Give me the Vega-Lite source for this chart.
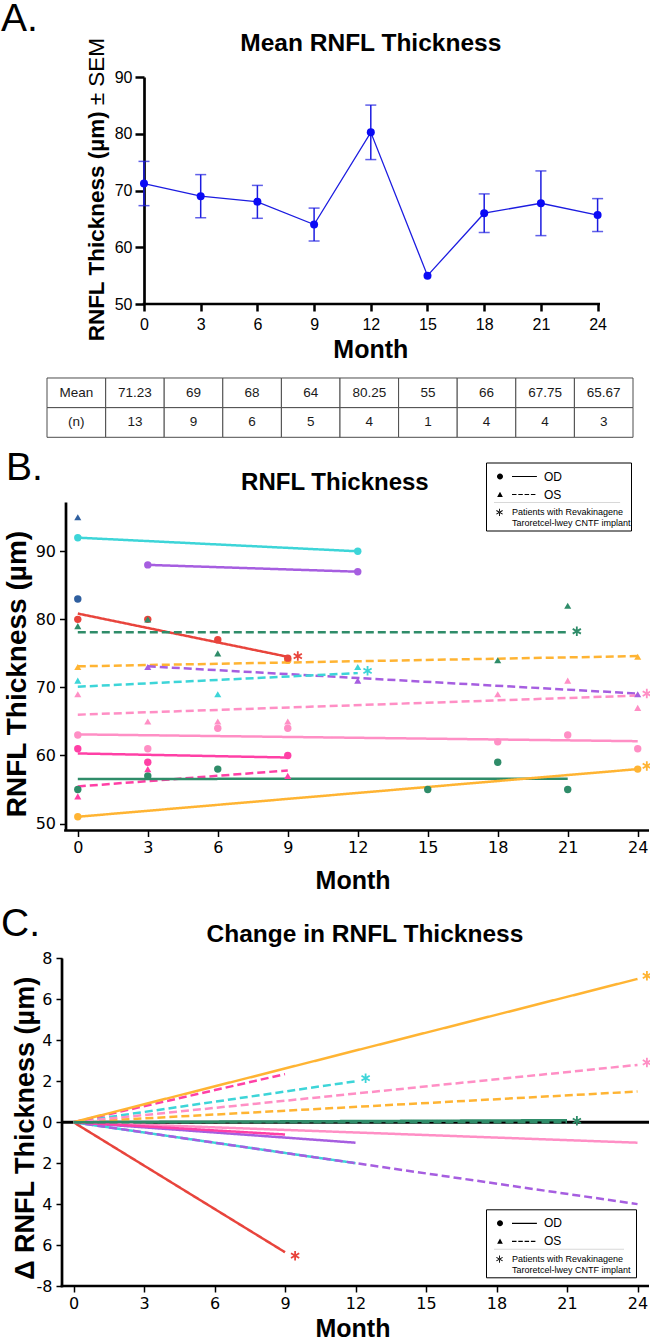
{
  "$schema": "https://vega.github.io/schema/vega-lite/v6.json",
  "background": "white",
  "padding": 0,
  "bounds": "flush",
  "spacing": 64,
  "resolve": {
    "scale": {"color": "independent", "shape": "independent", "strokeDash": "independent"},
    "legend": {"color": "independent", "shape": "independent", "strokeDash": "independent"}
  },
  "config": {
    "view": {"stroke": null},
    "axis": {"grid": false, "labelColor": "black", "tickColor": "black", "domainColor": "black", "labelFlush": false, "labelOverlap": false},
    "legend": {"title": null, "orient": "none", "direction": "vertical", "columns": 1, "symbolSize": 36, "symbolOpacity": 1, "symbolStrokeWidth": 0, "labelFont": "Liberation Sans", "labelColor": "black", "labelLimit": 300}
  },
  "datasets": {
    "meanA": [
      {"month": 0, "mean": 71.23, "sem": 3.9, "n": 13},
      {"month": 3, "mean": 69, "sem": 3.8, "n": 9},
      {"month": 6, "mean": 68, "sem": 2.9, "n": 6},
      {"month": 9, "mean": 64, "sem": 2.9, "n": 5},
      {"month": 12, "mean": 80.25, "sem": 4.8, "n": 4},
      {"month": 15, "mean": 55, "sem": 0, "n": 1},
      {"month": 18, "mean": 66, "sem": 3.4, "n": 4},
      {"month": 21, "mean": 67.75, "sem": 5.7, "n": 4},
      {"month": 24, "mean": 65.67, "sem": 2.9, "n": 3}
    ],
    "tableHeader": [
      {"month": "hdr", "key": "mean", "label": "Mean"},
      {"month": "hdr", "key": "n", "label": "(n)"}
    ],
    "pointsB": [
      {"pid": "P5", "eye": "OS", "month": 0, "rnfl": 95},
      {"pid": "P5", "eye": "OD", "month": 0, "rnfl": 83},
      {"pid": "P1", "eye": "OD", "month": 0, "rnfl": 92},
      {"pid": "P1", "eye": "OD", "month": 12, "rnfl": 90},
      {"pid": "P1", "eye": "OS", "month": 0, "rnfl": 71},
      {"pid": "P1", "eye": "OS", "month": 6, "rnfl": 69},
      {"pid": "P1", "eye": "OS", "month": 12, "rnfl": 73},
      {"pid": "P2", "eye": "OD", "month": 3, "rnfl": 88},
      {"pid": "P2", "eye": "OD", "month": 12, "rnfl": 87},
      {"pid": "P2", "eye": "OS", "month": 3, "rnfl": 73},
      {"pid": "P2", "eye": "OS", "month": 12, "rnfl": 71},
      {"pid": "P2", "eye": "OS", "month": 24, "rnfl": 69},
      {"pid": "P6", "eye": "OD", "month": 9, "rnfl": 74},
      {"pid": "P6", "eye": "OD", "month": 0, "rnfl": 51},
      {"pid": "P6", "eye": "OD", "month": 24, "rnfl": 58},
      {"pid": "P6", "eye": "OS", "month": 0, "rnfl": 73},
      {"pid": "P6", "eye": "OS", "month": 24, "rnfl": 74.5},
      {"pid": "P3", "eye": "OD", "month": 0, "rnfl": 80},
      {"pid": "P3", "eye": "OD", "month": 3, "rnfl": 80},
      {"pid": "P3", "eye": "OD", "month": 6, "rnfl": 77},
      {"pid": "P3", "eye": "OD", "month": 9, "rnfl": 74.3},
      {"pid": "P4", "eye": "OS", "month": 0, "rnfl": 79},
      {"pid": "P4", "eye": "OS", "month": 3, "rnfl": 80},
      {"pid": "P4", "eye": "OS", "month": 6, "rnfl": 75},
      {"pid": "P4", "eye": "OS", "month": 18, "rnfl": 74},
      {"pid": "P4", "eye": "OS", "month": 21, "rnfl": 82},
      {"pid": "P4", "eye": "OD", "month": 0, "rnfl": 55},
      {"pid": "P4", "eye": "OD", "month": 3, "rnfl": 57},
      {"pid": "P4", "eye": "OD", "month": 6, "rnfl": 58},
      {"pid": "P4", "eye": "OD", "month": 15, "rnfl": 55},
      {"pid": "P4", "eye": "OD", "month": 18, "rnfl": 59},
      {"pid": "P4", "eye": "OD", "month": 21, "rnfl": 55},
      {"pid": "P7", "eye": "OS", "month": 0, "rnfl": 69},
      {"pid": "P7", "eye": "OS", "month": 3, "rnfl": 65},
      {"pid": "P7", "eye": "OS", "month": 6, "rnfl": 65},
      {"pid": "P7", "eye": "OS", "month": 9, "rnfl": 65},
      {"pid": "P7", "eye": "OS", "month": 18, "rnfl": 69},
      {"pid": "P7", "eye": "OS", "month": 21, "rnfl": 71},
      {"pid": "P7", "eye": "OS", "month": 24, "rnfl": 67},
      {"pid": "P7", "eye": "OD", "month": 0, "rnfl": 63},
      {"pid": "P7", "eye": "OD", "month": 3, "rnfl": 61},
      {"pid": "P7", "eye": "OD", "month": 6, "rnfl": 64},
      {"pid": "P7", "eye": "OD", "month": 9, "rnfl": 64},
      {"pid": "P7", "eye": "OD", "month": 18, "rnfl": 62},
      {"pid": "P7", "eye": "OD", "month": 21, "rnfl": 63},
      {"pid": "P7", "eye": "OD", "month": 24, "rnfl": 61},
      {"pid": "P8", "eye": "OD", "month": 0, "rnfl": 61},
      {"pid": "P8", "eye": "OD", "month": 3, "rnfl": 59},
      {"pid": "P8", "eye": "OD", "month": 9, "rnfl": 60},
      {"pid": "P8", "eye": "OS", "month": 0, "rnfl": 54},
      {"pid": "P8", "eye": "OS", "month": 3, "rnfl": 58},
      {"pid": "P8", "eye": "OS", "month": 9, "rnfl": 57}
    ],
    "trendB": [
      {"line": "L1", "pid": "P1", "eye": "OD", "month": 0, "rnfl": 92},
      {"line": "L1", "pid": "P1", "eye": "OD", "month": 12, "rnfl": 90},
      {"line": "L2", "pid": "P2", "eye": "OD", "month": 3, "rnfl": 88},
      {"line": "L2", "pid": "P2", "eye": "OD", "month": 12, "rnfl": 87},
      {"line": "L3", "pid": "P3", "eye": "OD", "month": 0, "rnfl": 80.85},
      {"line": "L3", "pid": "P3", "eye": "OD", "month": 9, "rnfl": 74.5},
      {"line": "L4", "pid": "P4", "eye": "OS", "month": 0, "rnfl": 78.1},
      {"line": "L4", "pid": "P4", "eye": "OS", "month": 21, "rnfl": 78.1},
      {"line": "L5", "pid": "P6", "eye": "OS", "month": 0, "rnfl": 73.1},
      {"line": "L5", "pid": "P6", "eye": "OS", "month": 24, "rnfl": 74.6},
      {"line": "L6", "pid": "P2", "eye": "OS", "month": 3, "rnfl": 73.1},
      {"line": "L6", "pid": "P2", "eye": "OS", "month": 24, "rnfl": 69.1},
      {"line": "L7", "pid": "P1", "eye": "OS", "month": 0, "rnfl": 70.1},
      {"line": "L7", "pid": "P1", "eye": "OS", "month": 12, "rnfl": 72.1},
      {"line": "L8", "pid": "P7", "eye": "OS", "month": 0, "rnfl": 66.0},
      {"line": "L8", "pid": "P7", "eye": "OS", "month": 24, "rnfl": 68.8},
      {"line": "L9", "pid": "P7", "eye": "OD", "month": 0, "rnfl": 63.1},
      {"line": "L9", "pid": "P7", "eye": "OD", "month": 24, "rnfl": 62.1},
      {"line": "L10", "pid": "P8", "eye": "OD", "month": 0, "rnfl": 60.3},
      {"line": "L10", "pid": "P8", "eye": "OD", "month": 9, "rnfl": 59.7},
      {"line": "L11", "pid": "P8", "eye": "OS", "month": 0, "rnfl": 55.45},
      {"line": "L11", "pid": "P8", "eye": "OS", "month": 9, "rnfl": 57.8},
      {"line": "L12", "pid": "P4", "eye": "OD", "month": 0, "rnfl": 56.55},
      {"line": "L12", "pid": "P4", "eye": "OD", "month": 21, "rnfl": 56.6},
      {"line": "L13", "pid": "P6", "eye": "OD", "month": 0, "rnfl": 51.0},
      {"line": "L13", "pid": "P6", "eye": "OD", "month": 24, "rnfl": 58.0}
    ],
    "starsB": [
      {"pid": "P3", "month": 9.43, "rnfl": 74.6},
      {"pid": "P4", "month": 21.39, "rnfl": 78.25},
      {"pid": "P1", "month": 12.42, "rnfl": 72.44},
      {"pid": "P7", "month": 24.39, "rnfl": 69.1},
      {"pid": "P6", "month": 24.39, "rnfl": 58.47}
    ],
    "trendC": [
      {"line": "L1", "pid": "P1", "eye": "OD", "month": 0, "delta": 0},
      {"line": "L1", "pid": "P1", "eye": "OD", "month": 12, "delta": -2.0},
      {"line": "L2", "pid": "P2", "eye": "OD", "month": 0, "delta": 0},
      {"line": "L2", "pid": "P2", "eye": "OD", "month": 12, "delta": -1.0},
      {"line": "L3", "pid": "P3", "eye": "OD", "month": 0, "delta": 0},
      {"line": "L3", "pid": "P3", "eye": "OD", "month": 9, "delta": -6.35},
      {"line": "L5", "pid": "P6", "eye": "OS", "month": 0, "delta": 0},
      {"line": "L5", "pid": "P6", "eye": "OS", "month": 24, "delta": 1.5},
      {"line": "L6", "pid": "P2", "eye": "OS", "month": 0, "delta": 0},
      {"line": "L6", "pid": "P2", "eye": "OS", "month": 24, "delta": -4.0},
      {"line": "L7", "pid": "P1", "eye": "OS", "month": 0, "delta": 0},
      {"line": "L7", "pid": "P1", "eye": "OS", "month": 12, "delta": 2.0},
      {"line": "L8", "pid": "P7", "eye": "OS", "month": 0, "delta": 0},
      {"line": "L8", "pid": "P7", "eye": "OS", "month": 24, "delta": 2.8},
      {"line": "L9", "pid": "P7", "eye": "OD", "month": 0, "delta": 0},
      {"line": "L9", "pid": "P7", "eye": "OD", "month": 24, "delta": -1.0},
      {"line": "L10", "pid": "P8", "eye": "OD", "month": 0, "delta": 0},
      {"line": "L10", "pid": "P8", "eye": "OD", "month": 9, "delta": -0.6},
      {"line": "L11", "pid": "P8", "eye": "OS", "month": 0, "delta": 0},
      {"line": "L11", "pid": "P8", "eye": "OS", "month": 9, "delta": 2.35},
      {"line": "L13", "pid": "P6", "eye": "OD", "month": 0, "delta": 0},
      {"line": "L13", "pid": "P6", "eye": "OD", "month": 24, "delta": 7.0},
      {"line": "L12", "pid": "P4", "eye": "OD", "month": 0, "delta": 0},
      {"line": "L12", "pid": "P4", "eye": "OD", "month": 21, "delta": 0.1},
      {"line": "L4", "pid": "P4", "eye": "OS", "month": 0, "delta": 0},
      {"line": "L4", "pid": "P4", "eye": "OS", "month": 21, "delta": 0.0}
    ],
    "starsC": [
      {"pid": "P6", "month": 24.4, "delta": 7.15},
      {"pid": "P7", "month": 24.4, "delta": 2.92},
      {"pid": "P1", "month": 12.43, "delta": 2.15},
      {"pid": "P4", "month": 21.42, "delta": 0.07},
      {"pid": "P3", "month": 9.43, "delta": -6.52}
    ],
    "legendEye": [{"key": "OD"}, {"key": "OS"}, {"key": "gap"}],
    "legendSep": [{"key": "sep"}],
    "legendCNTF": [{"key": "CNTF"}]
  },
  "vconcat": [
    {
      "width": 553,
      "height": 227,
      "layer": [
        {
          "data": {"name": "meanA"},
          "encoding": {
            "x": {
              "field": "month", "type": "quantitative", "title": null,
              "scale": {"domain": [-5.132, 24.127], "nice": false, "zero": false},
              "axis": {"values": [0, 3, 6, 9, 12, 15, 18, 21, 24], "domain": false, "tickSize": 7, "tickWidth": 2.5, "labelFont": "Liberation Sans", "labelFontSize": 16, "labelPadding": 5, "title": null}
            },
            "y": {
              "field": "mean", "type": "quantitative", "title": null,
              "scale": {"domain": [50, 90], "nice": false, "zero": false},
              "axis": {"values": [50, 60, 70, 80, 90], "offset": -97, "domainWidth": 2.7, "tickSize": 9, "tickWidth": 2.5, "labelFont": "Liberation Sans", "labelFontSize": 16, "labelPadding": 3, "title": null}
            }
          },
          "layer": [
            {"mark": {"type": "line", "color": "#1c1ce0", "strokeWidth": 1.3}},
            {
              "transform": [{"filter": "datum.sem > 0"}],
              "mark": {"type": "errorbar", "color": "#1c1ce0", "thickness": 1.5, "ticks": {"size": 11, "thickness": 1.5}},
              "encoding": {"yError": {"field": "sem"}}
            },
            {"mark": {"type": "point", "filled": true, "size": 64, "opacity": 1, "color": "#0a0af5"}}
          ]
        },
        {
          "data": {"values": [{"k": "x-axis"}]},
          "mark": {"type": "rule", "color": "black", "strokeWidth": 2.7},
          "encoding": {"x": {"datum": -0.07}, "x2": {"datum": 24.127}, "y": {"datum": 50}}
        },
        {
          "data": {"values": [{"t": "A."}]},
          "mark": {"type": "text", "font": "Liberation Sans", "fontSize": 39, "align": "left", "baseline": "alphabetic", "color": "black"},
          "encoding": {"x": {"datum": -7.566}, "y": {"datum": 98.05}, "text": {"field": "t"}}
        },
        {
          "data": {"values": [{"t": "Mean RNFL Thickness"}]},
          "mark": {"type": "text", "font": "Liberation Sans", "fontSize": 24.5, "fontWeight": "bold", "align": "center", "baseline": "alphabetic", "color": "black"},
          "encoding": {"x": {"datum": 12}, "y": {"datum": 94.53}, "text": {"field": "t"}}
        },
        {
          "data": {"values": [{"t": "RNFL Thickness (µm)"}]},
          "mark": {"type": "text", "font": "Liberation Sans", "fontSize": 22.5, "fontWeight": "bold", "align": "right", "baseline": "alphabetic", "angle": 270, "color": "black"},
          "encoding": {"x": {"datum": -2.116}, "y": {"datum": 83.96}, "text": {"field": "t"}}
        },
        {
          "data": {"values": [{"t": "± SEM"}]},
          "mark": {"type": "text", "font": "Liberation Sans", "fontSize": 22.5, "align": "left", "baseline": "alphabetic", "angle": 270, "color": "black"},
          "encoding": {"x": {"datum": -2.116}, "y": {"datum": 85.01}, "text": {"field": "t"}}
        },
        {
          "data": {"values": [{"t": "Month"}]},
          "mark": {"type": "text", "font": "Liberation Sans", "fontSize": 25, "fontWeight": "bold", "align": "center", "baseline": "alphabetic", "color": "black"},
          "encoding": {"x": {"datum": 12}, "y": {"datum": 40.43}, "text": {"field": "t"}}
        }
      ]
    },
    {
      "width": 586,
      "height": 69.3,
      "layer": [
        {
          "data": {"name": "meanA"},
          "transform": [{"fold": ["mean", "n"], "as": ["key", "value"]}],
          "encoding": {
            "x": {"field": "month", "type": "ordinal", "scale": {"domain": ["hdr", 0, 3, 6, 9, 12, 15, 18, 21, 24], "paddingInner": 0, "paddingOuter": 0}, "axis": null},
            "y": {"field": "key", "type": "ordinal", "scale": {"domain": ["mean", "n"], "paddingInner": 0, "paddingOuter": 0.1686, "align": 1}, "axis": null}
          },
          "layer": [
            {"mark": {"type": "rect", "fill": "white", "stroke": "#4d4d4d", "strokeWidth": 1}},
            {"mark": {"type": "text", "font": "Liberation Sans", "fontSize": 13.5, "color": "#1a1a1a"}, "encoding": {"text": {"field": "value", "type": "nominal"}}}
          ]
        },
        {
          "data": {"name": "tableHeader"},
          "encoding": {
            "x": {"field": "month", "type": "ordinal", "scale": {"domain": ["hdr", 0, 3, 6, 9, 12, 15, 18, 21, 24], "paddingInner": 0, "paddingOuter": 0}, "axis": null},
            "y": {"field": "key", "type": "ordinal", "scale": {"domain": ["mean", "n"], "paddingInner": 0, "paddingOuter": 0.1686, "align": 1}, "axis": null}
          },
          "layer": [
            {"mark": {"type": "rect", "fill": "white", "stroke": "#4d4d4d", "strokeWidth": 1}},
            {"mark": {"type": "text", "font": "Liberation Sans", "fontSize": 13.5, "color": "#1a1a1a"}, "encoding": {"text": {"field": "label", "type": "nominal"}}}
          ]
        }
      ]
    },
    {
      "width": 602,
      "height": 328.5,
      "resolve": {"scale": {"shape": "independent"}, "legend": {"shape": "independent"}},
      "layer": [
        {
          "encoding": {
            "x": {
              "field": "month", "type": "quantitative", "title": null,
              "scale": {"domain": [-1.32, 24.484], "nice": false, "zero": false},
              "axis": {"values": [0, 3, 6, 9, 12, 15, 18, 21, 24], "domain": false, "tickSize": 6, "tickWidth": 1.5, "labelFont": "DejaVu Sans", "labelFontSize": 16, "labelPadding": 3, "title": null}
            },
            "y": {
              "field": "rnfl", "type": "quantitative", "title": null,
              "scale": {"domain": [48.98, 97.24], "nice": false, "zero": false},
              "axis": {"values": [50, 60, 70, 80, 90], "offset": -18.5, "domainWidth": 2.7, "tickSize": 6, "tickWidth": 1.5, "labelFont": "DejaVu Sans", "labelFontSize": 16, "labelPadding": 4, "title": null}
            },
            "color": {"field": "pid", "type": "nominal", "scale": {"domain": ["P1", "P2", "P3", "P4", "P5", "P6", "P7", "P8"], "range": ["#3dd5d8", "#a65ee0", "#e8443c", "#2f8c69", "#2f5f9f", "#ffb433", "#ff8fc5", "#ff40a6"]}, "legend": null}
          },
          "layer": [
            {
              "data": {"name": "trendB"},
              "mark": {"type": "line", "strokeWidth": 2.5},
              "encoding": {
                "strokeDash": {"field": "eye", "type": "nominal", "scale": {"domain": ["OD", "OS"], "range": [[1, 0], [8, 4]]}, "legend": null},
                "detail": {"field": "line"}
              }
            },
            {
              "data": {"name": "pointsB"},
              "transform": [{"filter": "datum.eye === 'OD'"}],
              "mark": {"type": "point", "shape": "circle", "filled": true, "size": 55, "opacity": 1}
            },
            {
              "data": {"name": "pointsB"},
              "transform": [{"filter": "datum.eye === 'OS'"}],
              "mark": {"type": "point", "shape": "triangle-up", "filled": true, "size": 50, "opacity": 1}
            },
            {
              "data": {"name": "starsB"},
              "mark": {"type": "point", "shape": "M0,-1V1M-0.866,-0.5L0.866,0.5M-0.866,0.5L0.866,-0.5", "filled": false, "size": 90, "strokeWidth": 1.8, "opacity": 1}
            }
          ]
        },
        {
          "data": {"name": "legendEye"},
          "mark": {"type": "point", "filled": true, "opacity": 0, "color": "black"},
          "encoding": {
            "x": {"datum": 0},
            "y": {"datum": 60},
            "shape": {
              "field": "key", "type": "nominal",
              "scale": {"domain": ["OD", "OS", "gap"], "range": ["M-1,0A1,1,0,1,0,1,0A1,1,0,1,0,-1,0ZM4,-0.2H12.3V0.2H4Z", "M-0.95,0.8L0.95,0.8L0,-0.9ZM4,-0.2H5.5V0.2H4ZM6.1,-0.2H7.6V0.2H6.1ZM8.2,-0.2H9.7V0.2H8.2ZM10.3,-0.2H11.8V0.2H10.3Z", "M-1,0H41M0,0V3.3"]},
              "legend": {
                "legendX": 439, "legendY": -39.5, "fillColor": "white", "strokeColor": "black", "padding": 8, "rowPadding": 6,
                "labelFontSize": 12, "labelOffset": 38,
                "labelExpr": "datum.value === 'gap' ? '' : datum.value"
              }
            }
          }
        },
        {
          "data": {"name": "legendSep"},
          "mark": {"type": "point", "filled": true, "opacity": 0, "color": "#d8d8d8"},
          "encoding": {
            "x": {"datum": 0},
            "y": {"datum": 60},
            "shape": {
              "field": "key", "type": "nominal",
              "scale": {"domain": ["sep"], "range": ["M-1.33,-0.17H40.7V0.17H-1.33Z"]},
              "legend": {
                "legendX": 448, "legendY": -2.5, "padding": 0,
                "labelFontSize": 1, "labelOffset": 0,
                "labelExpr": "''"
              }
            }
          }
        },
        {
          "data": {"name": "legendCNTF"},
          "mark": {"type": "point", "filled": true, "opacity": 0, "color": "black"},
          "encoding": {
            "x": {"datum": 0},
            "y": {"datum": 60},
            "shape": {
              "field": "key", "type": "nominal",
              "scale": {"domain": ["CNTF"], "range": ["M-0.15,-1.2H0.15V1.2H-0.15ZM0.965,0.73L1.115,0.47L-0.965,-0.73L-1.115,-0.47ZM1.115,-0.47L0.965,-0.73L-1.115,0.47L-0.965,0.73Z"]},
              "legend": {
                "legendX": 448, "legendY": 5.8, "padding": 0,
                "labelFontSize": 9, "labelOffset": 8,
                "labelExpr": "['Patients with Revakinagene', 'Taroretcel-lwey CNTF implant']"
              }
            }
          }
        },
        {
          "data": {"values": [{"k": "x-axis"}]},
          "mark": {"type": "rule", "color": "black", "strokeWidth": 2.7},
          "encoding": {"x": {"datum": -0.585}, "x2": {"datum": 24.484}, "y": {"datum": 48.98}}
        },
        {
          "data": {"values": [{"t": "B."}]},
          "mark": {"type": "text", "font": "Liberation Sans", "fontSize": 39, "align": "left", "baseline": "alphabetic", "color": "black"},
          "encoding": {"x": {"datum": -3.078}, "y": {"datum": 100.47}, "text": {"field": "t"}}
        },
        {
          "data": {"values": [{"t": "RNFL Thickness"}]},
          "mark": {"type": "text", "font": "Liberation Sans", "fontSize": 24, "fontWeight": "bold", "align": "center", "baseline": "alphabetic", "color": "black"},
          "encoding": {"x": {"datum": 11.02}, "y": {"datum": 99.0}, "text": {"field": "t"}}
        },
        {
          "data": {"values": [{"t": "RNFL Thickness (µm)"}]},
          "mark": {"type": "text", "font": "Liberation Sans", "fontSize": 28, "fontWeight": "bold", "align": "center", "baseline": "alphabetic", "angle": 270, "color": "black"},
          "encoding": {"x": {"datum": -2.22}, "y": {"datum": 71.97}, "text": {"field": "t"}}
        },
        {
          "data": {"values": [{"t": "Month"}]},
          "mark": {"type": "text", "font": "Liberation Sans", "fontSize": 25, "fontWeight": "bold", "align": "center", "baseline": "alphabetic", "color": "black"},
          "encoding": {"x": {"datum": 11.8}, "y": {"datum": 40.39}, "text": {"field": "t"}}
        }
      ]
    },
    {
      "width": 602,
      "height": 391,
      "resolve": {"scale": {"shape": "independent"}, "legend": {"shape": "independent"}},
      "layer": [
        {
          "data": {"values": [{"k": "zero"}]},
          "mark": {"type": "rule", "color": "black", "strokeWidth": 3},
          "encoding": {
            "x": {"datum": -0.489, "type": "quantitative", "scale": {"domain": [-1.128, 24.489], "nice": false, "zero": false},
              "axis": {"values": [0, 3, 6, 9, 12, 15, 18, 21, 24], "domain": false, "tickSize": 6, "tickWidth": 1.5, "labelFont": "DejaVu Sans", "labelFontSize": 16, "labelPadding": 3, "title": null}},
            "x2": {"datum": 24.489},
            "y": {"datum": 0, "type": "quantitative", "scale": {"domain": [-8, 11.1], "nice": false, "zero": false},
              "axis": {"values": [-8, -6, -4, -2, 0, 2, 4, 6, 8], "offset": -15, "domain": false, "tickSize": 6, "tickWidth": 1.5, "labelFont": "DejaVu Sans", "labelFontSize": 16, "labelPadding": 4, "title": null, "labelExpr": "datum.value === -8 ? '-8' : format(abs(datum.value), 'd')"}}
          }
        },
        {
          "encoding": {
            "x": {"field": "month", "type": "quantitative", "title": null},
            "y": {"field": "delta", "type": "quantitative", "title": null},
            "color": {"field": "pid", "type": "nominal", "scale": {"domain": ["P1", "P2", "P3", "P4", "P5", "P6", "P7", "P8"], "range": ["#3dd5d8", "#a65ee0", "#e8443c", "#2f8c69", "#2f5f9f", "#ffb433", "#ff8fc5", "#ff40a6"]}, "legend": null}
          },
          "layer": [
            {
              "data": {"name": "trendC"},
              "mark": {"type": "line", "strokeWidth": 2.5},
              "encoding": {
                "strokeDash": {"field": "eye", "type": "nominal", "scale": {"domain": ["OD", "OS"], "range": [[1, 0], [8, 4]]}, "legend": null},
                "detail": {"field": "line"}
              }
            },
            {
              "data": {"name": "starsC"},
              "mark": {"type": "point", "shape": "M0,-1V1M-0.866,-0.5L0.866,0.5M-0.866,0.5L0.866,-0.5", "filled": false, "size": 90, "strokeWidth": 1.8, "opacity": 1}
            }
          ]
        },
        {
          "data": {"name": "legendEye"},
          "mark": {"type": "point", "filled": true, "opacity": 0, "color": "black"},
          "encoding": {
            "x": {"datum": 0},
            "y": {"datum": 0},
            "shape": {
              "field": "key", "type": "nominal",
              "scale": {"domain": ["OD", "OS", "gap"], "range": ["M-1,0A1,1,0,1,0,1,0A1,1,0,1,0,-1,0ZM4,-0.2H12.3V0.2H4Z", "M-0.95,0.8L0.95,0.8L0,-0.9ZM4,-0.2H5.5V0.2H4ZM6.1,-0.2H7.6V0.2H6.1ZM8.2,-0.2H9.7V0.2H8.2ZM10.3,-0.2H11.8V0.2H10.3Z", "M-1,0H42.5M0,0V3.3"]},
              "legend": {
                "legendX": 439, "legendY": 314.3, "fillColor": "white", "strokeColor": "black", "padding": 8, "rowPadding": 6,
                "labelFontSize": 12, "labelOffset": 38,
                "labelExpr": "datum.value === 'gap' ? '' : datum.value"
              }
            }
          }
        },
        {
          "data": {"name": "legendSep"},
          "mark": {"type": "point", "filled": true, "opacity": 0, "color": "#d8d8d8"},
          "encoding": {
            "x": {"datum": 0},
            "y": {"datum": 0},
            "shape": {
              "field": "key", "type": "nominal",
              "scale": {"domain": ["sep"], "range": ["M-1.33,-0.17H42V0.17H-1.33Z"]},
              "legend": {
                "legendX": 448, "legendY": 351.3, "padding": 0,
                "labelFontSize": 1, "labelOffset": 0,
                "labelExpr": "''"
              }
            }
          }
        },
        {
          "data": {"name": "legendCNTF"},
          "mark": {"type": "point", "filled": true, "opacity": 0, "color": "black"},
          "encoding": {
            "x": {"datum": 0},
            "y": {"datum": 0},
            "shape": {
              "field": "key", "type": "nominal",
              "scale": {"domain": ["CNTF"], "range": ["M-0.15,-1.2H0.15V1.2H-0.15ZM0.965,0.73L1.115,0.47L-0.965,-0.73L-1.115,-0.47ZM1.115,-0.47L0.965,-0.73L-1.115,0.47L-0.965,0.73Z"]},
              "legend": {
                "legendX": 448, "legendY": 359.6, "padding": 0,
                "labelFontSize": 9, "labelOffset": 8,
                "labelExpr": "['Patients with Revakinagene', 'Taroretcel-lwey CNTF implant']"
              }
            }
          }
        },
        {
          "data": {"values": [{"k": "y-axis"}]},
          "mark": {"type": "rule", "color": "black", "strokeWidth": 2.7},
          "encoding": {"x": {"datum": -0.489}, "y": {"datum": -8.06}, "y2": {"datum": 8}}
        },
        {
          "data": {"values": [{"k": "x-axis"}]},
          "mark": {"type": "rule", "color": "black", "strokeWidth": 2.7},
          "encoding": {"x": {"datum": -0.546}, "x2": {"datum": 24.489}, "y": {"datum": -8}}
        },
        {
          "data": {"values": [{"t": "C."}]},
          "mark": {"type": "text", "font": "Liberation Sans", "fontSize": 39, "align": "left", "baseline": "alphabetic", "color": "black"},
          "encoding": {"x": {"datum": -3.085}, "y": {"datum": 9.12}, "text": {"field": "t"}}
        },
        {
          "data": {"values": [{"t": "Change in RNFL Thickness"}]},
          "mark": {"type": "text", "font": "Liberation Sans", "fontSize": 24.5, "fontWeight": "bold", "align": "center", "baseline": "alphabetic", "color": "black"},
          "encoding": {"x": {"datum": 12.4}, "y": {"datum": 8.78}, "text": {"field": "t"}}
        },
        {
          "data": {"values": [{"t": "Δ RNFL Thickness (µm)"}]},
          "mark": {"type": "text", "font": "Liberation Sans", "fontSize": 27, "fontWeight": "bold", "align": "center", "baseline": "alphabetic", "angle": 270, "color": "black"},
          "encoding": {"x": {"datum": -1.681}, "y": {"datum": -0.3}, "text": {"field": "t"}}
        },
        {
          "data": {"values": [{"t": "Month"}]},
          "mark": {"type": "text", "font": "Liberation Sans", "fontSize": 25, "fontWeight": "bold", "align": "center", "baseline": "alphabetic", "color": "black"},
          "encoding": {"x": {"datum": 11.89}, "y": {"datum": -10.5}, "text": {"field": "t"}}
        }
      ]
    }
  ]
}
